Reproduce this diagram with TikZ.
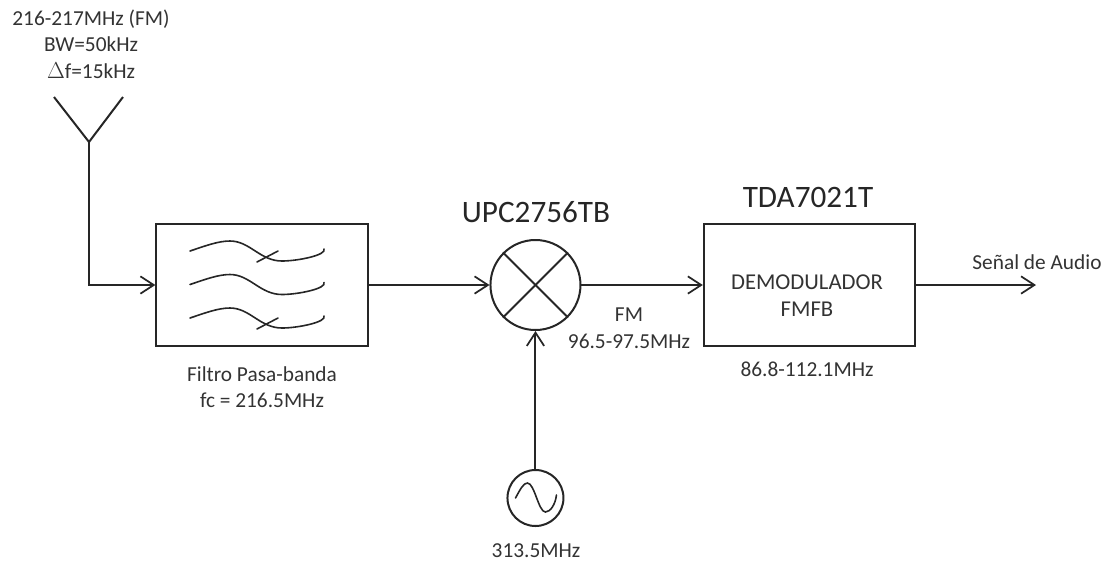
\documentclass[tikz,border=0pt]{standalone}
\usepackage{fontspec}
\setmainfont{Carlito}
\usetikzlibrary{positioning,arrows.meta,calc}
\tikzset{
  blk/.style  ={rectangle, draw=black!85, line width=1.5pt, minimum width=158.5pt, minimum height=92pt, inner sep=0pt},
  mix/.style  ={circle, draw=black!85, line width=1.5pt, minimum size=67.5pt, inner sep=0pt},
  osc/.style  ={circle, draw=black!85, line width=1.5pt, minimum size=42pt, inner sep=0pt},
  lbl/.style  ={align=center, inner sep=0pt, text=black!80, font=\fontsize{16}{20}\selectfont},
  blklbl/.style={lbl, font=\fontsize{17}{20}\selectfont},
  ttl/.style  ={inner sep=0pt, text=black!85, font=\fontsize{23.4}{26}\selectfont},
  arr/.style  ={-{Straight Barb[length=10pt,width=13pt,line width=1.3pt]}, line width=1.5pt, draw=black!85},
  wire/.style ={line width=1.5pt, draw=black!85},
  thin wire/.style={line width=1.2pt, draw=black!85, line cap=round},
}
\begin{document}
\begin{tikzpicture}[x=.75pt,y=-.75pt]
  \useasboundingbox (0,0) rectangle (1107,562);
  \node[blk] (filtro) at (262,285) {};
  \node[mix, right=90.6pt of filtro] (mixer) {};
  \node[blk, right=91pt of mixer] (demod) {};
  \node[osc, below=103.5pt of mixer] (lo) {};
  % antenna
  \coordinate (antj) at (89,142);
  \coordinate (antl) at (54,97);
  \coordinate (antr) at (123,97);
  \coordinate (audio) at (1036,285);
  \draw[wire] (antl) -- (antj) -- (antr);
  \draw[arr] (antj) |- (filtro.west);
  \draw[arr] (filtro) -- (mixer);
  \draw[arr] (mixer) -- (demod);
  \draw[arr] (demod) -- (audio);
  \draw[arr] (lo) -- (mixer);
  % mixer cross
  \draw[wire] (mixer.45) -- (mixer.225);
  \draw[wire] (mixer.135) -- (mixer.315);
  % filter sections
  \foreach \dy in {0,33.5,67}
    \draw[thin wire] (190,251+\dy) .. controls (205,246+\dy) and (218,241+\dy) .. (230,241+\dy)
      .. controls (250,241+\dy) and (260,261+\dy) .. (282,261+\dy)
      .. controls (298,261+\dy) and (327,255+\dy) .. (324,249+\dy);
  \draw[thin wire] (257,262) -- (278,251);
  \draw[thin wire] (257,329) -- (278,318);
  % sine wave
  \draw[thin wire] ($(lo)+(-20,0)$) .. controls ($(lo)+(-15,-9)$) and ($(lo)+(-12,-15)$) .. ($(lo)+(-8,-15)$)
    .. controls ($(lo)+(-1,-15)$) and ($(lo)+(3,14)$) .. ($(lo)+(10,14)$)
    .. controls ($(lo)+(15,14)$) and ($(lo)+(20,6)$) .. ($(lo)+(21,-3)$);
  % labels
  \node[lbl] (ant label) at (91,44) {216-217MHz (FM)\\BW=50kHz\\$\Delta$f=15kHz};
  \node[lbl] (filtro label) at (262,387) {Filtro Pasa-banda\\fc = 216.5MHz};
  \node[ttl] (mixer title) at (536,212) {UPC2756TB};
  \node[ttl] (demod title) at (808,197) {TDA7021T};
  \node[blklbl] (demod text) at (807,295.5) {DEMODULADOR\\FMFB};
  \node[lbl] (fm label) at (629,328) {FM\\96.5-97.5MHz};
  \node[lbl] (demod label) at (807,369) {86.8-112.1MHz};
  \node[lbl] (audio label) at (1037,262) {Señal de Audio};
  \node[lbl] (lo label) at (536,551) {313.5MHz};
\end{tikzpicture}
\end{document}
